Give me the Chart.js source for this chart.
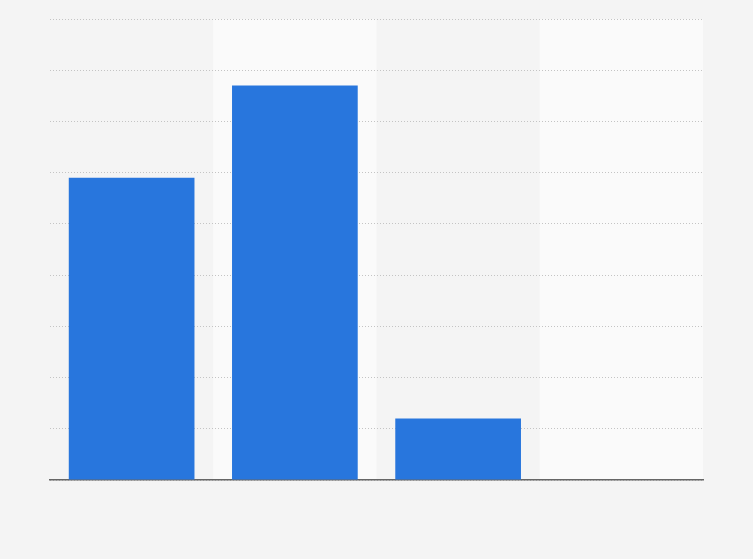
<!DOCTYPE html>
<html lang="en">
<head>
  <meta charset="UTF-8">
  <title>Bar chart</title>
  <script src="https://cdn.jsdelivr.net/npm/chart.js"></script>
  <style>
    html, body {
      margin: 0;
      padding: 0;
      background-color: #f4f4f4;
    }
    #graficoContainer {
      width: 753px;
      height: 559px;
    }
  </style>
</head>
<body>
  <div id="graficoContainer">
    <canvas id="grafico"></canvas>
  </div>

  <script>
    // data (no labels are shown in the reference)
    const categorias = ['A', 'B', 'C', 'D'];
    const valores = [5.9, 7.7, 1.2, 0];
    const yMax = 9;
    const yPasso = 1;

    // light stripes behind every second category, drawn before grid and axes
    const faixas = {
      id: 'faixas',
      beforeDraw(chart) {
        const { ctx, chartArea, scales } = chart;
        const x = scales.x;
        ctx.save();
        categorias.forEach((c, i) => {
          if (i % 2 === 0) return;
          const meio = x.getPixelForValue(i);
          const larg = x.width / categorias.length;
          ctx.fillStyle = '#fafafa';
          ctx.fillRect(meio - larg / 2, chartArea.top, larg, chartArea.bottom - chartArea.top);
        });
        ctx.restore();
      }
    };

    const ctx = document.getElementById('grafico').getContext('2d');
    const chart = new Chart(ctx, {
      type: 'bar',
      data: {
        labels: categorias,
        datasets: [{
          data: valores,
          backgroundColor: '#2876dd',
          borderWidth: 0,
          categoryPercentage: 0.77,
          barPercentage: 1.0
        }]
      },
      options: {
        responsive: true,
        maintainAspectRatio: false,
        animation: false,
        layout: { padding: { left: 50, right: 50, top: 19, bottom: 79 } },
        plugins: {
          legend: { display: false },
          tooltip: { enabled: false }
        },
        scales: {
          x: {
            ticks: { display: false },
            grid: { display: false, drawTicks: false },
            border: { display: true, color: '#666666', width: 1.5 }
          },
          y: {
            min: 0,
            max: yMax,
            ticks: { display: false, stepSize: yPasso },
            grid: { color: '#c4c4c4', lineWidth: 1, drawTicks: false },
            border: { display: false, dash: [1, 2] }
          }
        }
      },
      plugins: [faixas]
    });
  </script>
</body>
</html>
